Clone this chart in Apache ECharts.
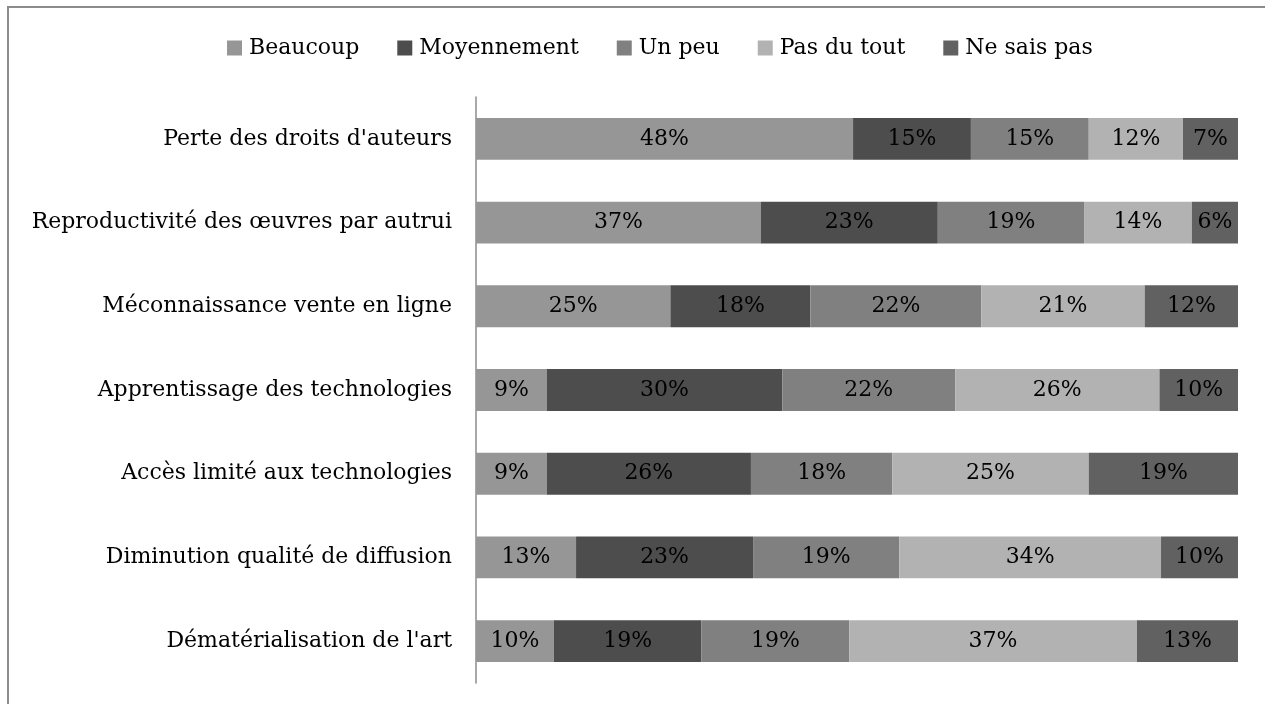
<!DOCTYPE html>
<html>
<head>
<meta charset="utf-8">
<script src="https://cdn.jsdelivr.net/npm/echarts@6/dist/echarts.min.js"></script>
<style>
  html, body { margin: 0; padding: 0; background: #fff; }
  #frame { position: absolute; left: 7px; top: 6px; width: 1270px; height: 710px; border: 2px solid #8c8c8c; box-sizing: border-box; }
  #chart { position: absolute; left: 0; top: 0; width: 1265px; height: 704px; }
</style>
</head>
<body>
<div id="frame"></div>
<div id="chart"></div>
<script>
// catégories (de haut en bas)
const categories = [
  'Perte des droits d\'auteurs',
  'Reproductivité des œuvres par autrui',
  'Méconnaissance vente en ligne',
  'Apprentissage des technologies',
  'Accès limité aux technologies',
  'Diminution qualité de diffusion',
  'Dématérialisation de l\'art'
]
const seriesNames = ['Beaucoup', 'Moyennement', 'Un peu', 'Pas du tout', 'Ne sais pas']
// pourcentages
const beaucoup = [48, 37, 25, 9, 9, 13, 10]
const moyennement = [15, 23, 18, 30, 26, 23, 19]
const unPeu = [15, 19, 22, 22, 18, 19, 19]
const pasDuTout = [12, 14, 21, 26, 25, 34, 37]
const neSaisPas = [7, 6, 12, 10, 19, 10, 13]
const colors = ['#969696', '#4d4d4d', '#808080', '#b2b2b2', '#616161']

const raw = [beaucoup, moyennement, unPeu, pasDuTout, neSaisPas]
// barres empilées à 100 % : chaque ligne ramenée à son total
const totals = categories.map((c, i) => raw.reduce((s, arr) => s + arr[i], 0))

const font = 'DejaVu Serif'
const chart = echarts.init(document.getElementById('chart'))
const option = {
  animation: false,
  textStyle: { fontFamily: font },
  legend: {
    data: seriesNames,
    top: 32,
    left: 222,
    icon: 'rect',
    itemWidth: 15,
    itemHeight: 15,
    itemGap: 38,
    textStyle: { fontFamily: font, fontSize: 22, color: '#000', padding: [0, 0, 0, 2] }
  },
  grid: { left: 476, right: 27, top: 97, bottom: 21 },
  xAxis: {
    type: 'value',
    min: 0,
    max: 100,
    show: false
  },
  yAxis: {
    type: 'category',
    inverse: true,
    data: categories,
    axisLine: { lineStyle: { color: '#8c8c8c', width: 1.5 } },
    axisTick: { show: false },
    axisLabel: { fontFamily: font, fontSize: 22, color: '#000', margin: 24 }
  },
  series: raw.map((arr, k) => ({
    name: seriesNames[k],
    type: 'bar',
    stack: 'total',
    barCategoryGap: '50%',
    itemStyle: { color: colors[k] },
    label: {
      show: true,
      position: 'inside',
      fontFamily: font,
      fontSize: 22,
      color: '#000',
      formatter: p => arr[p.dataIndex] + '%'
    },
    data: arr.map((v, i) => v / totals[i] * 100)
  }))
}
chart.setOption(option)
</script>
</body>
</html>
